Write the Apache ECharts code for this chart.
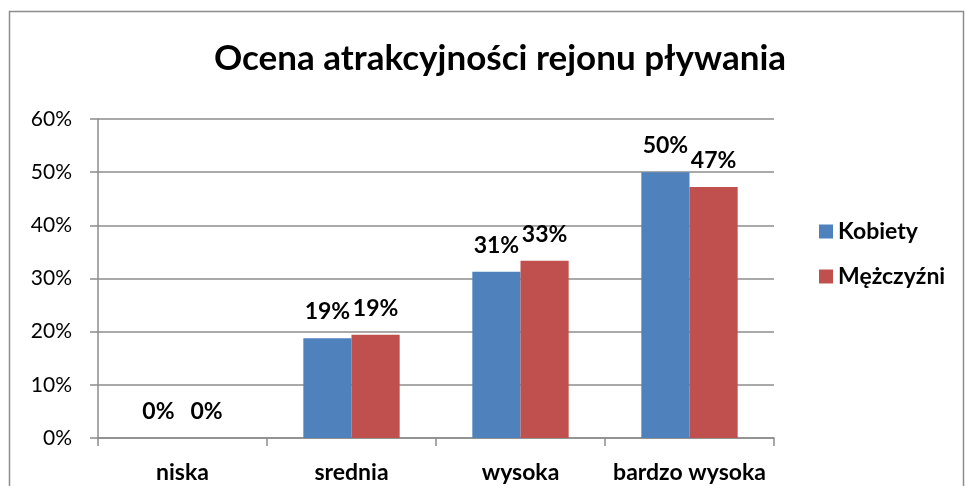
<!DOCTYPE html>
<html>
<head>
<meta charset="UTF-8">
<title>Ocena atrakcyjności rejonu pływania</title>
<script src="https://cdn.jsdelivr.net/npm/echarts@6/dist/echarts.min.js"></script>
<style>
  html, body { margin: 0; padding: 0; background: #fff; }
  #main { width: 965px; height: 486px; }
</style>
</head>
<body>
<div id="main"></div>
<script>
// dane
var kategorie = ['niska', 'srednia', 'wysoka', 'bardzo wysoka'];
var kobiety = [0, 18.75, 31.25, 50];
var mezczyzni = [0, 19.44, 33.33, 47.22];
var nazwySerii = ['Kobiety', 'Mężczyźni'];

var font = 'Lato, "Open Sans", sans-serif';
var chart = echarts.init(document.getElementById('main'));

var etykieta = {
  show: true,
  position: 'top',
  distance: 15,
  fontFamily: font,
  fontWeight: 'bold',
  fontSize: 23,
  color: '#000',
  formatter: function (p) { return Math.round(p.value) + '%'; }
};

var option = {
  animation: false,
  graphic: [{
    type: 'rect',
    shape: { x: 9.5, y: 11.5, width: 954, height: 480 },
    style: { fill: 'none', stroke: '#8c8c8c', lineWidth: 1.5 }
  }],
  title: {
    text: 'Ocena atrakcyjności rejonu pływania',
    left: 214,
    top: 41,
    padding: 0,
    textStyle: { fontFamily: font, fontWeight: 'bold', fontSize: 35, color: '#000' }
  },
  legend: {
    orient: 'vertical',
    left: 814,
    top: 215,
    itemWidth: 14,
    itemHeight: 14,
    itemGap: 22,
    icon: 'rect',
    textStyle: { fontFamily: font, fontWeight: 'bold', fontSize: 23, color: '#000' },
    data: nazwySerii
  },
  grid: { left: 98, right: 191, top: 119, bottom: 48 },
  xAxis: {
    type: 'category',
    data: kategorie,
    axisLine: { lineStyle: { color: '#8c8c8c', width: 1.5 } },
    axisTick: { show: true, length: 8, lineStyle: { color: '#8c8c8c', width: 1.5 } },
    axisLabel: { interval: 0, fontFamily: font, fontWeight: 'bold', fontSize: 23, color: '#000', margin: 23 }
  },
  yAxis: {
    type: 'value',
    min: 0,
    max: 60,
    interval: 10,
    axisLine: { show: true, lineStyle: { color: '#8c8c8c', width: 1.5 } },
    axisTick: { show: true, length: 8, lineStyle: { color: '#8c8c8c', width: 1.5 } },
    splitLine: { lineStyle: { color: '#8c8c8c', width: 1.5 } },
    axisLabel: { fontFamily: font, fontSize: 21, color: '#000', margin: 26, formatter: '{value}%' }
  },
  series: [
    {
      name: nazwySerii[0],
      type: 'bar',
      data: kobiety,
      barGap: '0%',
      barCategoryGap: '43%',
      itemStyle: { color: '#4f81bd' },
      label: etykieta
    },
    {
      name: nazwySerii[1],
      type: 'bar',
      data: mezczyzni,
      itemStyle: { color: '#c0504d' },
      label: etykieta
    }
  ]
};

chart.setOption(option);
</script>
</body>
</html>
